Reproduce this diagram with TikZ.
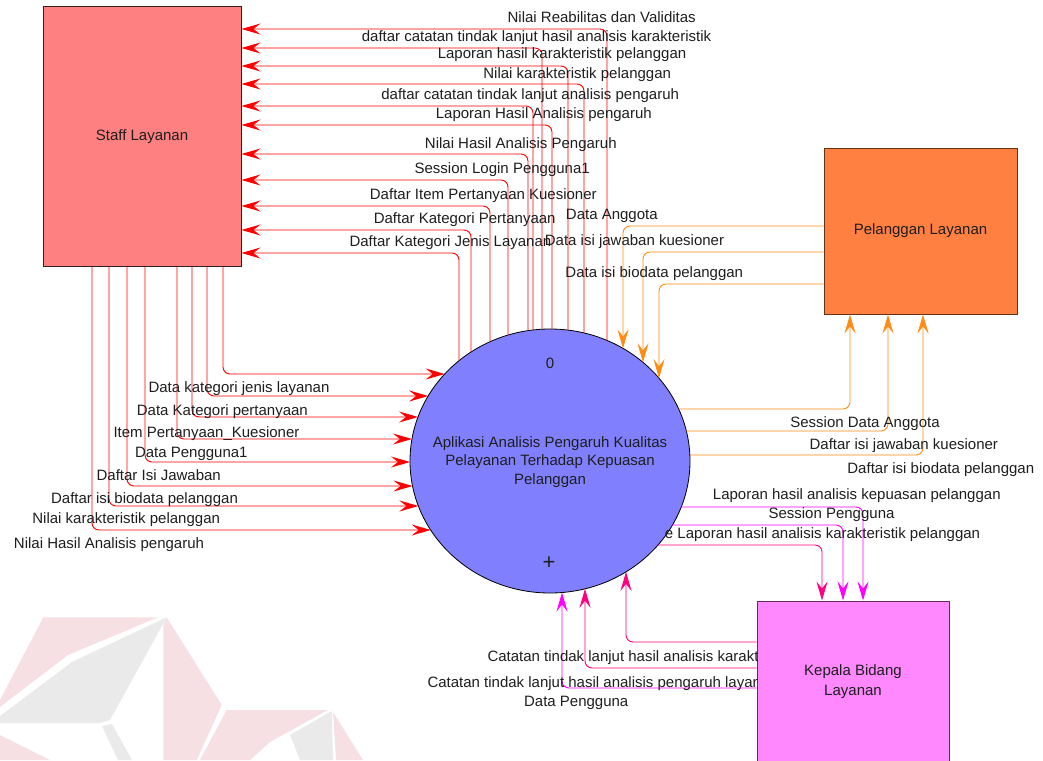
\documentclass[tikz,border=0pt]{standalone}
\usepackage{fontspec}
\setmainfont{Liberation Sans}
\usetikzlibrary{arrows.meta,shapes.geometric}

\definecolor{staffFill}{RGB}{255,128,128}
\definecolor{staffLine}{RGB}{50,30,30}
\definecolor{custFill}{RGB}{255,128,64}
\definecolor{custLine}{RGB}{100,50,20}
\definecolor{headFill}{RGB}{255,136,255}
\definecolor{headLine}{RGB}{100,40,100}
\definecolor{procFill}{RGB}{128,128,255}
\definecolor{flowRed}{RGB}{255,0,0}
\definecolor{flowOrange}{RGB}{255,140,20}
\definecolor{flowMagenta}{RGB}{255,0,255}
\definecolor{flowPink}{RGB}{255,0,128}
\definecolor{markPink}{RGB}{246,224,228}
\definecolor{markGray}{RGB}{234,234,234}
\definecolor{inkDark}{RGB}{30,30,30}

\begin{document}
\begin{tikzpicture}[x=1pt,y=-1pt,
  % border points of the process ellipse (centre 550,461; radii 140 x 132)
  declare function={
    exl(\t)=550-140*sqrt(1-((\t-461)/132)^2);
    exr(\t)=550+140*sqrt(1-((\t-461)/132)^2);
    eyt(\t)=461-132*sqrt(1-((\t-550)/140)^2);
    eyb(\t)=461+132*sqrt(1-((\t-550)/140)^2);
  },
  txt/.style={font=\fontsize{15}{19}\selectfont, text=inkDark},
  lbl/.style={txt, inner sep=0pt, text height=10.7pt, text depth=0pt},
  entity/.style={txt, rectangle, line width=1pt, inner sep=0pt, align=center},
  flow/.style={line width=0.9pt, rounded corners=7pt,
    -{Stealth[length=19pt,width=11pt,inset=7pt]}},
  redflow/.style={flow, draw=flowRed},
  orangeflow/.style={flow, draw=flowOrange},
  magflow/.style={flow, draw=flowMagenta},
  pinkflow/.style={flow, draw=flowPink},
]
\useasboundingbox (0,0) rectangle (1043,760);
\clip (0,0) rectangle (1043,760);

% faint logo in the lower left corner
\fill[markPink] (43.3,617.3) -- (158,617.3) -- (68,655) -- (0,707) -- (0,700) -- cycle;
\fill[markGray] (166.7,617.3) -- (72,662) -- (0,716) -- (0,723) -- (100,723) -- (110,720) -- cycle;
\fill[markPink] (166.7,617.3) -- (221.7,705) -- (196.7,760) -- (163.3,760) -- (163.3,625) -- cycle;
\fill[markGray] (102,726) -- (112,724) -- (132,760) -- (118,760) -- cycle;
\fill[markPink] (0,735) -- (50,760) -- (0,760) -- cycle;
\fill[markPink] (226.7,710) -- (328,710) -- (270,742) -- (250,760) -- (200,760) -- cycle;
\fill[markGray] (331.7,711) -- (290,735) -- (300,760) -- (333,760) -- cycle;
\fill[markPink] (333,712) -- (363,760) -- (336,760) -- cycle;

% external entities and the process
\node[entity, fill=staffFill, draw=staffLine, minimum width=198pt, minimum height=259pt]
  (staff) at (142,136.5) {Staff Layanan};
\node[entity, fill=custFill, draw=custLine, minimum width=193pt, minimum height=166pt]
  (cust) at (920.5,231) {Pelanggan Layanan};
\node[entity, fill=headFill, draw=headLine, minimum width=192pt, minimum height=162pt]
  (head) at (853,682) {Kepala Bidang\\[1pt]Layanan};
\node[ellipse, draw=black, line width=0.8pt, fill=procFill, minimum width=280pt,
  minimum height=264pt, inner sep=0pt] (proc) at (550,461) {};
\node[lbl] (procnum) at (550,363) {0};
\node[txt, inner sep=0pt, font=\fontsize{22}{22}\selectfont] (procplus) at (549,563) {+};
\node[txt, align=center, inner sep=0pt] (procname) at (550,462)
  {Aplikasi Analisis Pengaruh Kualitas\\[-0.5pt]Pelayanan Terhadap Kepuasan\\[-0.5pt]Pelanggan};

% process -> Staff Layanan
\foreach \xv/\yh in {607/29, 542/48, 568/66, 584/84, 533/106, 552/125,
                     528/154, 508/180, 490/206, 471/230, 459/253}
  \draw[redflow] (\xv,{eyt(\xv)}) -- (\xv,\yh) -- (staff.east |- 0,\yh);

% Staff Layanan -> process
\foreach \xv/\yh in {223/374, 207/396, 192/417, 177/439, 145/462, 127/486, 109/506, 92/530}
  \draw[redflow] (staff.south -| \xv,0) -- (\xv,\yh) -- ({exl(\yh)},\yh);

% Pelanggan Layanan <-> process
\foreach \yh/\xv in {226/623, 252/643, 284/659}
  \draw[orangeflow] (cust.west |- 0,\yh) -- (\xv,\yh) -- (\xv,{eyt(\xv)});
\foreach \yh/\xv in {409/850, 431/888, 455/923}
  \draw[orangeflow] ({exr(\yh)},\yh) -- (\xv,\yh) -- (cust.south -| \xv,0);

% process <-> Kepala Bidang Layanan
\draw[magflow] ({exr(507)},507) -- (863,507) -- (head.north -| 863,0);
\draw[magflow] ({exr(525)},525) -- (843,525) -- (head.north -| 843,0);
\draw[pinkflow] ({exr(545)},545) -- (822,545) -- (head.north -| 822,0);
\draw[pinkflow] (head.west |- 0,642) -- (626,642) -- (626,{eyb(626)});
\draw[pinkflow] (head.west |- 0,668) -- (585,668) -- (585,{eyb(585)});
\draw[magflow] (head.west |- 0,688) -- (562,688) -- (562,{eyb(562)});

% flow labels, upper group
\node[lbl] (t1) at (601.7,16.7) {Nilai Reabilitas dan Validitas};
\node[lbl] (t2) at (536.5,36) {daftar catatan tindak lanjut hasil analisis karakteristik};
\node[lbl] (t3) at (562,52.7) {Laporan hasil karakteristik pelanggan};
\node[lbl] (t4) at (577.2,73.3) {Nilai karakteristik pelanggan};
\node[lbl] (t5) at (530.2,94.3) {daftar catatan tindak lanjut analisis pengaruh};
\node[lbl] (t6) at (543.8,113.3) {Laporan Hasil Analisis pengaruh};
\node[lbl] (t7) at (520.8,142.7) {Nilai Hasil Analisis Pengaruh};
\node[lbl] (t8) at (502.2,168.3) {Session Login Pengguna1};
\node[lbl] (t9) at (483.3,194) {Daftar Item Pertanyaan Kuesioner};
\node[lbl] (t10) at (464.7,218.3) {Daftar Kategori Pertanyaan};
\node[lbl, anchor=west] (t11) at (349.3,240.7) {Daftar Kategori Jenis Layanan};

% flow labels, customer
\node[lbl] (c1) at (611.8,214.3) {Data Anggota};
\node[lbl, anchor=east] (c2) at (724.3,240) {Data isi jawaban kuesioner};
\node[lbl, anchor=east] (c3) at (743.3,272.3) {Data isi biodata pelanggan};
\node[lbl] (c4) at (865,422.3) {Session Data Anggota};
\node[lbl] (c5) at (903.8,444) {Daftar isi jawaban kuesioner};
\node[lbl] (c6) at (940.8,468.3) {Daftar isi biodata pelanggan};

% flow labels, staff inputs
\node[lbl, anchor=west] (s1) at (148.3,386.7) {Data kategori jenis layanan};
\node[lbl, anchor=west] (s2) at (136.7,410) {Data Kategori pertanyaan};
\node[lbl, anchor=west] (s3) at (113.3,431.7) {Item Pertanyaan\_Kuesioner};
\node[lbl] (s4) at (191.3,451.7) {Data Pengguna1};
\node[lbl] (s5) at (158.7,475) {Daftar Isi Jawaban};
\node[lbl] (s6) at (144.5,498.3) {Daftar isi biodata pelanggan};
\node[lbl] (s7) at (126.2,518.3) {Nilai karakteristik pelanggan};
\node[lbl] (s8) at (109,542.7) {Nilai Hasil Analisis pengaruh};

% flow labels, head of service
\node[lbl] (h1) at (856.8,494.3) {Laporan hasil analisis kepuasan pelanggan};
\node[lbl] (h2) at (831.5,513.3) {Session Pengguna};
\node[lbl] (h3) at (822.5,533.3) {e Laporan hasil analisis karakteristik pelanggan};
\begin{scope}
  \clip (0,0) rectangle (757,760);
  \node[lbl, anchor=west] (h4) at (487.3,655.7) {Catatan tindak lanjut hasil analisis karakteristik pelanggan};
  \node[lbl, anchor=west] (h5) at (427.3,682) {Catatan tindak lanjut hasil analisis pengaruh layanan};
\end{scope}
\node[lbl] (h6) at (576.2,701) {Data Pengguna};
\end{tikzpicture}
\end{document}
